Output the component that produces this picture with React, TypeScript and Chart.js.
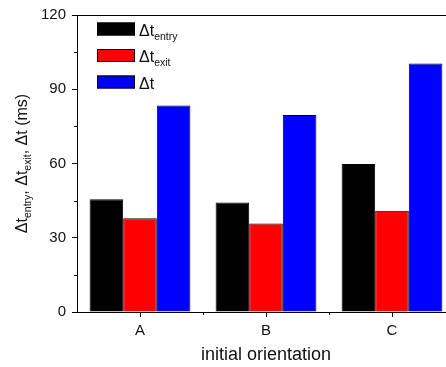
import React, { useEffect, useRef } from "react";
import { Chart, registerables } from "chart.js";

Chart.register(...registerables);

const categories = ["A", "B", "C"];
const entryValues = [45.6, 44.2, 59.8];
const exitValues = [37.9, 35.8, 40.9];
const totalValues = [83.4, 79.6, 100.4];
const seriesMain = ["\u0394t", "\u0394t", "\u0394t"];
const seriesSub = ["entry", "exit", ""];
const seriesColors = ["#000000", "#ff0000", "#0000ff"];
const yTicks = [0, 30, 60, 90, 120];
const xTitle = "initial orientation";

const FONT = "'Liberation Sans', Arial, sans-serif";

const customPlugin = {
  id: "custom",
  afterDraw(chart: any) {
    const ctx = chart.ctx as CanvasRenderingContext2D;
    const area = chart.chartArea;
    const y = chart.scales.y;
    const x = chart.scales.x;
    ctx.save();
    ctx.strokeStyle = "#000";
    ctx.lineWidth = 1;
    ctx.beginPath();
    ctx.moveTo(area.left, Math.round(area.top) + 0.5);
    ctx.lineTo(area.right, Math.round(area.top) + 0.5);
    ctx.moveTo(Math.round(area.right) + 0.5, area.top);
    ctx.lineTo(Math.round(area.right) + 0.5, area.bottom);
    ctx.stroke();
    ctx.beginPath();
    for (let i = 0; i < yTicks.length - 1; i++) {
      const v = (yTicks[i] + yTicks[i + 1]) / 2;
      const py = Math.round(y.getPixelForValue(v)) + 0.5;
      ctx.moveTo(area.left - 3, py);
      ctx.lineTo(area.left, py);
    }
    for (let i = 0; i < categories.length - 1; i++) {
      const px = Math.round((x.getPixelForValue(i) + x.getPixelForValue(i + 1)) / 2) + 0.5;
      ctx.moveTo(px, area.bottom);
      ctx.lineTo(px, area.bottom + 3);
    }
    ctx.stroke();

    ctx.fillStyle = "#111";
    ctx.font = `18px ${FONT}`;
    ctx.textAlign = "center";
    ctx.textBaseline = "alphabetic";
    ctx.fillText(xTitle, x.getPixelForValue(1), 360);

    const segs: { t: string; sub: boolean }[] = [
      { t: "\u0394t", sub: false },
      { t: "entry", sub: true },
      { t: ", \u0394t", sub: false },
      { t: "exit", sub: true },
      { t: ", \u0394t (ms)", sub: false },
    ];
    const mainF = `16px ${FONT}`;
    const subF = `10.5px ${FONT}`;
    let total = 0;
    for (const s of segs) {
      ctx.font = s.sub ? subF : mainF;
      total += ctx.measureText(s.t).width;
    }
    ctx.save();
    ctx.translate(27, (area.top + area.bottom) / 2);
    ctx.rotate(-Math.PI / 2);
    ctx.textAlign = "left";
    let cx = -total / 2;
    for (const s of segs) {
      ctx.font = s.sub ? subF : mainF;
      ctx.fillText(s.t, cx, s.sub ? 4 : 0);
      cx += ctx.measureText(s.t).width;
    }
    ctx.restore();

    const boxTops = [22.5, 49, 75.5];
    for (let i = 0; i < seriesMain.length; i++) {
      const top = boxTops[i];
      ctx.fillStyle = seriesColors[i];
      ctx.fillRect(97, top, 38, 13);
      ctx.strokeStyle = "#000";
      ctx.strokeRect(97.5, top + 0.5, 37, 12);
      ctx.fillStyle = "#111";
      ctx.textAlign = "left";
      ctx.font = mainF;
      const base = top + 13;
      ctx.fillText(seriesMain[i], 139, base);
      const w = ctx.measureText(seriesMain[i]).width;
      if (seriesSub[i]) {
        ctx.font = subF;
        ctx.fillText(seriesSub[i], 139 + w, base + 4);
      }
    }
    ctx.restore();
  },
};

export default function App() {
  const ref = useRef<HTMLCanvasElement | null>(null);
  useEffect(() => {
    if (!ref.current) return;
    const values = [entryValues, exitValues, totalValues];
    const chart = new Chart(ref.current, {
      type: "bar",
      data: {
        labels: categories,
        datasets: values.map((v, i) => ({
          label: seriesMain[i] + seriesSub[i],
          data: v,
          backgroundColor: seriesColors[i],
          borderColor: "#000",
          borderWidth: 1,
          barPercentage: 1,
          categoryPercentage: 0.8,
        })),
      },
      options: {
        animation: false,
        responsive: false,
        layout: { padding: { left: 0, right: 5, top: 12, bottom: 0 } },
        plugins: { legend: { display: false }, tooltip: { enabled: false }, title: { display: false } },
        scales: {
          x: {
            offset: true,
            grid: { display: true, drawOnChartArea: false, drawTicks: true, tickLength: 5, color: "#000", offset: false },
            border: { display: true, color: "#000", width: 1 },
            ticks: { color: "#111", font: { family: FONT, size: 15 }, padding: 5 },
            afterFit: (s: any) => { s.height = 55; },
          },
          y: {
            min: 0,
            max: 120,
            afterBuildTicks: (s: any) => { s.ticks = yTicks.map((v) => ({ value: v })); },
            grid: { display: true, drawOnChartArea: false, drawTicks: true, tickLength: 5, color: "#000" },
            border: { display: true, color: "#000", width: 1 },
            ticks: { color: "#111", font: { family: FONT, size: 15 }, padding: 6 },
            afterFit: (s: any) => { s.width = 77; },
          },
        },
      },
      plugins: [customPlugin],
    });
    return () => chart.destroy();
  }, []);
  return (
    <div style={{ position: "fixed", left: 0, top: 0, width: 446, height: 367, overflow: "hidden", background: "#fff" }}>
      <canvas ref={ref} width={460} height={367} style={{ width: 460, height: 367, display: "block" }} />
    </div>
  );
}
